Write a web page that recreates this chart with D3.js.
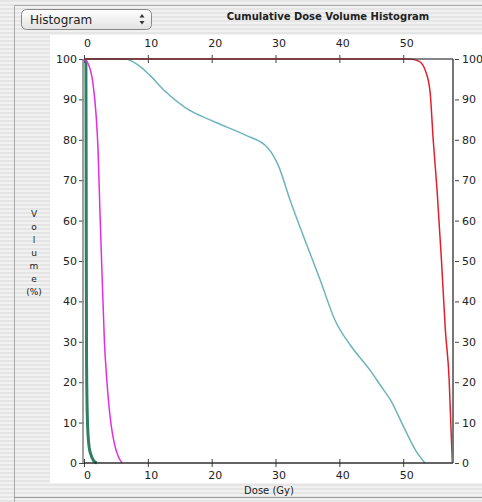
<!DOCTYPE html>
<html>
<head>
	<title>Cumulative Dose Volume Histogram</title>
	<script src="https://cdnjs.cloudflare.com/ajax/libs/d3/7.8.5/d3.min.js"></script>
	<style>
		body { margin: 0; background: #fff; }
		svg text { font-family: "DejaVu Sans", sans-serif; fill: #222; }
	</style>
</head>
<body>
<svg id="chart" width="482" height="502"></svg>
<script>

	// tick values on the dose and volume axes
	var doseTicks = [0, 10, 20, 30, 40, 50];
	var volumeTicks = [0, 10, 20, 30, 40, 50, 60, 70, 80, 90, 100];
	var volumeLetters = ["V", "o", "l", "u", "m", "e", "(%)"];

	// [dose Gy, volume %]
	var greenCurve = [[0, 100], [0.3, 99.5], [0.35, 60], [0.4, 25], [0.55, 10], [0.8, 4], [1.1, 2], [1.5, 0.6], [2, 0]];
	var magentaCurve = [[0, 100], [0.6, 99], [1.4, 94], [1.9, 86], [2.2, 77.5], [2.5, 62], [2.8, 48], [3.2, 30], [3.6, 20], [4.2, 10], [4.8, 4.5], [5.4, 1.5], [6, 0]];
	var cyanCurve = [[0, 100], [6.4, 100], [8.5, 98.5], [10.3, 96], [12.7, 92], [15.8, 88], [20.5, 84.4], [25.2, 81.2], [28.8, 78], [30.4, 73.8], [32.3, 65], [34.6, 55.2], [37, 45.3], [39.3, 35.4], [41.7, 29.2], [44.8, 23], [46.4, 19.3], [48, 15.6], [50.3, 8.2], [52, 3], [53.4, 0]];
	var redCurve = [[0, 100], [51, 100], [52.5, 99.4], [53.5, 97], [54.2, 92], [54.7, 80], [55.3, 67.6], [56, 50], [56.6, 33], [57.2, 20.5], [57.5, 8], [57.7, 0]];

	var svg = d3.select("#chart");

	// aqua pinstripes
	var defs = svg.append("defs");
	var pat = defs.append("pattern")
		.attr("id", "stripes")
		.attr("patternUnits", "userSpaceOnUse")
		.attr("width", 8).attr("height", 4);
	pat.append("rect").attr("width", 8).attr("height", 4).attr("fill", "#f1f1f1");
	pat.append("rect").attr("width", 8).attr("height", 2).attr("fill", "#e5e5e5");

	svg.append("rect").attr("width", 482).attr("height", 502).attr("fill", "url(#stripes)");

	// window frame
	svg.append("path")
		.attr("d", "M14.5,502 V5.5 H482")
		.attr("fill", "none").attr("stroke", "#aaa");
	svg.append("line")
		.attr("x1", 14).attr("x2", 482).attr("y1", 497.5).attr("y2", 497.5)
		.attr("stroke", "#999");

	// white chart panel
	svg.append("rect")
		.attr("x", 50).attr("y", 35).attr("width", 432).attr("height", 448)
		.attr("fill", "#fff");

	// popup button
	var btn = svg.append("g");
	var grad = defs.append("linearGradient")
		.attr("id", "btnGrad").attr("x1", 0).attr("x2", 0).attr("y1", 0).attr("y2", 1);
	grad.append("stop").attr("offset", "0%").attr("stop-color", "#ffffff");
	grad.append("stop").attr("offset", "100%").attr("stop-color", "#e2e2e2");
	btn.append("rect")
		.attr("x", 21.5).attr("y", 9.5).attr("width", 130).attr("height", 20)
		.attr("rx", 5)
		.attr("fill", "url(#btnGrad)").attr("stroke", "#888");
	btn.append("text")
		.attr("x", 30).attr("y", 24)
		.style("font-size", "12px")
		.text("Histogram");
	btn.append("path")
		.attr("d", "M139.5,17.5 L142,14 L144.5,17.5 Z M139.5,21 L142,24.5 L144.5,21 Z")
		.attr("fill", "#333");

	svg.append("text")
		.attr("x", 328).attr("y", 20)
		.attr("text-anchor", "middle")
		.style("font-size", "10px").style("font-weight", "bold")
		.text("Cumulative Dose Volume Histogram");

	var x = d3.scaleLinear().domain([0, 57.8]).range([84, 453]);
	var y = d3.scaleLinear().domain([0, 100]).range([463, 59]);

	var line = d3.line()
		.x(function(d) { return x(d[0]); })
		.y(function(d) { return y(d[1]); })
		.curve(d3.curveMonotoneX);

	// axes
	var axTop = svg.append("g")
		.attr("transform", "translate(0,59)")
		.call(d3.axisTop(x).tickValues(doseTicks).tickSize(4).tickPadding(8));
	var axBottom = svg.append("g")
		.attr("transform", "translate(0,463)")
		.call(d3.axisBottom(x).tickValues(doseTicks).tickSize(4).tickPadding(4));
	var axLeft = svg.append("g")
		.attr("transform", "translate(84,0)")
		.call(d3.axisLeft(y).tickValues(volumeTicks).tickSize(5).tickPadding(2));
	var axRight = svg.append("g")
		.attr("transform", "translate(453,0)")
		.call(d3.axisRight(y).tickValues(volumeTicks).tickSize(6).tickPadding(3));

	[axTop, axBottom, axLeft, axRight].forEach(function(a) {
		a.select(".domain").remove();
		a.selectAll(".tick line").attr("stroke", "#444");
		a.selectAll(".tick text")
			.style("font-size", "11px")
			.attr("fill", "#222");
	});
	axTop.selectAll(".tick text").attr("dy", "0").attr("y", -12).attr("dx", 3);
	axTop.selectAll(".tick line").attr("y1", 4).attr("y2", -4);
	axBottom.selectAll(".tick line").attr("y1", -4).attr("y2", 4);
	axBottom.selectAll(".tick text").attr("dx", 3);
	axRight.selectAll(".tick line").attr("x1", 2);

	// curves
	var curves = [
		{data: greenCurve, color: "#2e7e66", width: 3},
		{data: magentaCurve, color: "#e22ee0", width: 1.5},
		{data: cyanCurve, color: "#6cb4be", width: 1.5},
		{data: redCurve, color: "#e2202c", width: 1.5}
	];
	curves.forEach(function(c) {
		svg.append("path")
			.datum(c.data)
			.attr("fill", "none")
			.attr("stroke", c.color)
			.attr("stroke-width", c.width)
			.attr("stroke-linejoin", "round")
			.attr("d", line);
	});

	// plot frame
	svg.append("line")
		.attr("x1", x(0) - 1).attr("x2", x(0) - 1).attr("y1", y(100)).attr("y2", y(0))
		.attr("stroke", "#888").attr("stroke-width", 2).attr("stroke-opacity", 0.8);
	svg.append("line")
		.attr("x1", x(57.8)).attr("x2", x(57.8)).attr("y1", y(100)).attr("y2", y(0))
		.attr("stroke", "#777").attr("stroke-width", 2);
	svg.append("line")
		.attr("x1", x(0)).attr("x2", x(57.8)).attr("y1", y(100)).attr("y2", y(100))
		.attr("stroke", "#333").attr("stroke-width", 2).attr("stroke-opacity", 0.6);
	svg.append("line")
		.attr("x1", x(0)).attr("x2", x(57.8)).attr("y1", y(0)).attr("y2", y(0))
		.attr("stroke", "#222").attr("stroke-width", 2).attr("stroke-opacity", 0.7);

	// axis titles
	svg.append("g").selectAll("text")
		.data(volumeLetters)
		.enter().append("text")
		.attr("x", 34)
		.attr("y", function(d, i) { return 217 + i * 13; })
		.attr("text-anchor", "middle")
		.style("font-size", "9px")
		.text(function(d) { return d; });

	svg.append("text")
		.attr("x", 269).attr("y", 494)
		.attr("text-anchor", "middle")
		.style("font-size", "10px")
		.text("Dose (Gy)");

</script>
</body>
</html>
